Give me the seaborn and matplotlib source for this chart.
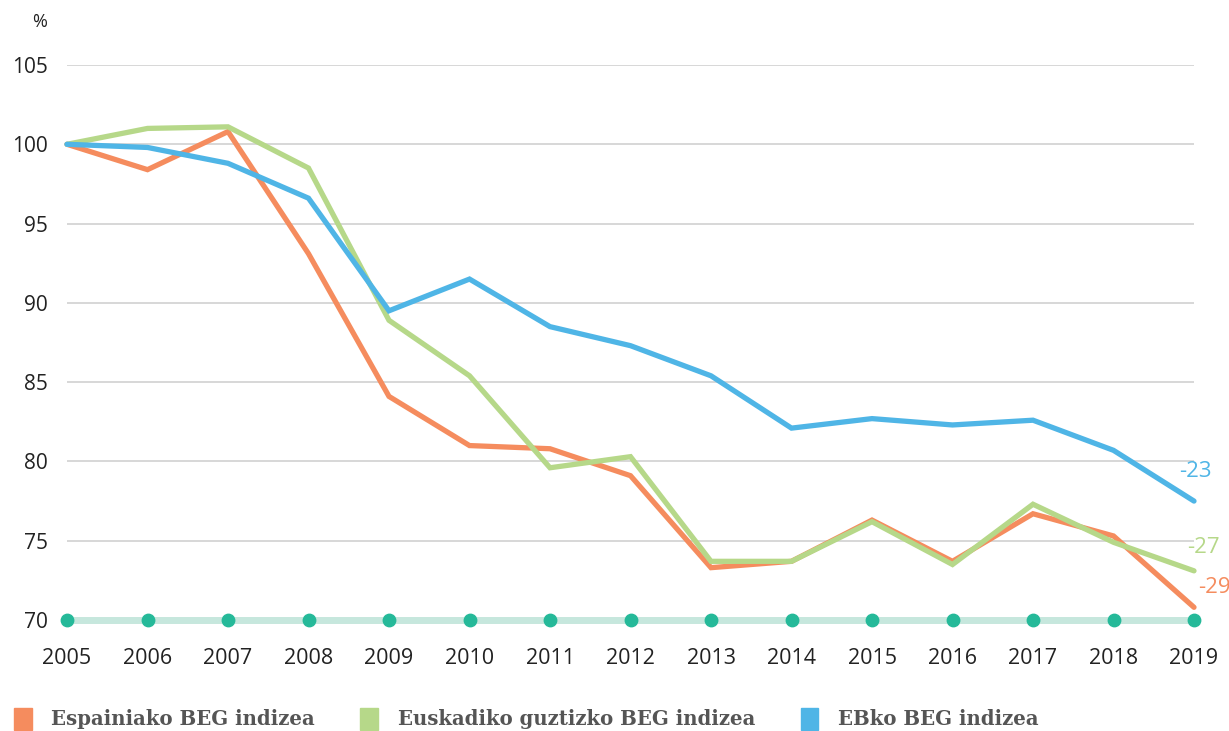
import pandas as pd
import matplotlib.pyplot as plt
import seaborn as sns
from matplotlib.patches import Patch

# Datuak
years = list(range(2005, 2020))
espainia = [100, 98.4, 100.8, 93.1, 84.1, 81.0, 80.8, 79.1, 73.3, 73.7, 76.3, 73.7, 76.7, 75.3, 70.8]
euskadi = [100, 101.0, 101.1, 98.5, 88.9, 85.4, 79.6, 80.3, 73.7, 73.7, 76.2, 73.5, 77.3, 74.9, 73.1]
eb = [100, 99.8, 98.8, 96.6, 89.5, 91.5, 88.5, 87.3, 85.4, 82.1, 82.7, 82.3, 82.6, 80.7, 77.5]
series_names = ['Espainiako BEG indizea', 'Euskadiko guztizko BEG indizea', 'EBko BEG indizea']
end_labels = ['-29', '-27', '-23']
y_ticks = [70, 75, 80, 85, 90, 95, 100, 105]

colors = ['#F58C5E', '#B6D889', '#4FB5E6']

df = pd.DataFrame({
    'urtea': years * 3,
    'balioa': espainia + euskadi + eb,
    'seriea': [series_names[0]] * 15 + [series_names[1]] * 15 + [series_names[2]] * 15,
})

sns.set_style('white')
plt.rcParams['font.family'] = ['Open Sans', 'DejaVu Sans']

fig = plt.figure(figsize=(12.29, 7.31), dpi=100)
ax = fig.add_axes([67 / 1229, 1 - 620 / 731, (1194 - 67) / 1229, (620 - 65) / 731])

for y in y_ticks[1:]:
    ax.axhline(y, color='#D4D4D4', lw=1.3, zorder=0)

# oinarri-lerroa puntuekin
ax.plot(years, [70] * len(years), color='#C6E7DD', lw=5, zorder=1, clip_on=False)
ax.scatter(years, [70] * len(years), color='#25B999', s=80, zorder=2, clip_on=False)

sns.lineplot(data=df, x='urtea', y='balioa', hue='seriea', palette=colors,
             linewidth=3.8, legend=False, ax=ax, zorder=3)
for line in ax.lines[-3:]:
    line.set_solid_joinstyle('miter')
    line.set_clip_on(False)

# amaierako etiketak
last_vals = [espainia[-1], euskadi[-1], eb[-1]]
offsets = [(3, 14), (-5, 17), (-11, 21)]
for val, lab, col, off in zip(last_vals, end_labels, colors, offsets):
    ax.annotate(lab, (years[-1], val), xytext=off, textcoords='offset points',
                color=col, fontsize=16, ha='left', va='center')

ax.set_xlim(2005, 2019)
ax.set_ylim(70, 105)
ax.set_yticks(y_ticks)
ax.set_xticks(years)
ax.tick_params(axis='y', length=0, pad=14, labelsize=15, labelcolor='#222222')
ax.tick_params(axis='x', length=0, pad=20, labelsize=15.5, labelcolor='#222222')
ax.set_xlabel('')
ax.set_ylabel('')
sns.despine(ax=ax, left=True, bottom=True)

fig.text(32 / 1229, 1 - 22 / 731, '%', fontsize=13, color='#222222', va='center')

handles = [Patch(color=c) for c in colors]
fig.legend(handles, series_names, loc='lower left', bbox_to_anchor=(0.0, -0.017),
           ncol=3, frameon=False, handlelength=0.9, handleheight=1.3, handletextpad=1.0,
           columnspacing=2.3, borderaxespad=0.3,
           prop={'family': 'DejaVu Serif', 'weight': 'bold', 'size': 14.2},
           labelcolor='#555555')

plt.savefig('out.png', dpi=100)
